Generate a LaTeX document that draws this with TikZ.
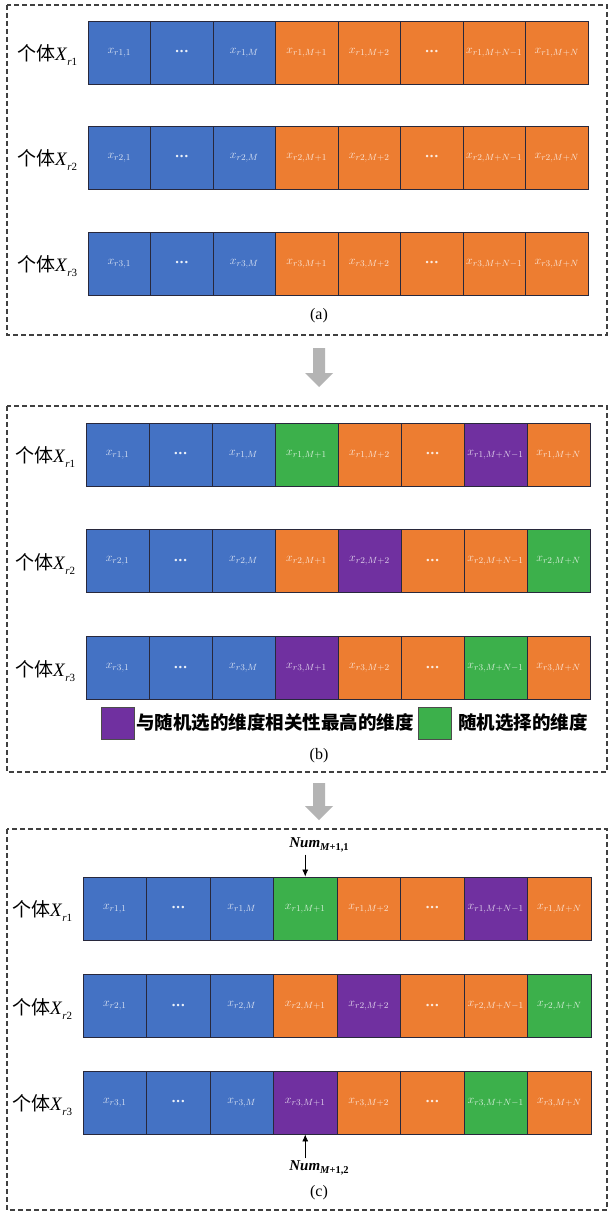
\documentclass[tikz,border=0pt]{standalone}
\usepackage{fontspec}
\setmainfont{Liberation Serif}
\newfontfamily\cjk{Noto Sans CJK SC}
\usetikzlibrary{arrows.meta}
\definecolor{cblue}{RGB}{68,114,196}
\definecolor{corange}{RGB}{237,125,49}
\definecolor{cgreen}{RGB}{60,176,75}
\definecolor{cpurple}{RGB}{112,48,160}
\definecolor{frm}{RGB}{64,64,64}
\definecolor{garrow}{RGB}{180,180,180}
\definecolor{cellline}{RGB}{40,40,60}
\tikzset{
  cellbox/.style={draw=cellline, line width=0.9pt, minimum height=63pt, inner sep=0pt,
    font=\fontsize{13}{13}\selectfont},
  frame/.style={draw=frm, dash pattern=on 5pt off 3pt, line width=1.3pt},
  rowlabel/.style={anchor=base west, inner sep=0pt, font=\fontsize{19}{19}\selectfont},
  plabel/.style={font=\fontsize{16}{16}\selectfont, inner sep=0pt},
  legbox/.style={draw=black!70, line width=0.8pt, minimum width=33pt, minimum height=32pt, inner sep=0pt},
  legtext/.style={anchor=west, inner sep=0pt, font=\fontsize{18.5}{18.5}\selectfont\cjk\bfseries},
  numlabel/.style={inner sep=0pt, font=\fontsize{15}{15}\selectfont\bfseries\itshape},
  numarrow/.style={-{Latex[length=7pt,width=6pt]}, line width=0.7pt, draw=black},
  blockarrow/.style={fill=garrow, draw=none},
}
\newcommand\mydots{{\fontsize{9}{9}\selectfont\textbf{•\,•\,•}}}
% #1 prefix, #2 x0, #3 cell width, #4 y centre, #5 row index, #6 #7 #8 #9 colours of cells 4,5,7,8
\newcommand\cellrow[9]{%
  \begin{scope}[shift={(#2,#4)}, x=#3pt]
  \node[cellbox, fill=cblue, text=white!80!cblue, minimum width=#3pt] (#1c1) at (0.5,0) {$x_{r#5,1}$};
  \node[cellbox, fill=cblue, text=white!90!cblue, minimum width=#3pt] (#1c2) at (1.5,0) {\mydots};
  \node[cellbox, fill=cblue, text=white!80!cblue, minimum width=#3pt] (#1c3) at (2.5,0) {$x_{r#5,M}$};
  \node[cellbox, fill=#6, text=white!80!#6, minimum width=#3pt] (#1c4) at (3.5,0) {$x_{r#5,M+1}$};
  \node[cellbox, fill=#7, text=white!80!#7, minimum width=#3pt] (#1c5) at (4.5,0) {$x_{r#5,M+2}$};
  \node[cellbox, fill=corange, text=white!85!corange, minimum width=#3pt] (#1c6) at (5.5,0) {\mydots};
  \node[cellbox, fill=#8, text=white!80!#8, minimum width=#3pt] (#1c7) at (6.5,0) {$x_{r#5,M+N-1}$};
  \node[cellbox, fill=#9, text=white!80!#9, minimum width=#3pt] (#1c8) at (7.5,0) {$x_{r#5,M+N}$};
  \end{scope}
}
\newcommand\indlabel[1]{{\cjk 个体}\textit{X}\raisebox{-5pt}{\fontsize{11}{11}\selectfont\textit{r}#1}}
\newcommand\numtext[1]{Num\raisebox{-3.5pt}{\fontsize{10.5}{10.5}\selectfont M\upshape +1,#1}}
\begin{document}
\begin{tikzpicture}[x=1pt, y=-1pt]
\useasboundingbox (0,0) rectangle (609,1214);
\fill[white] (0,0) rectangle (609,1214);

% ---------- panel (a) ----------
\draw[frame] (7,5) rectangle (607,335);
\cellrow{a1}{88}{62.5}{52.5}{1}{corange}{corange}{corange}{corange}
\cellrow{a2}{88}{62.5}{157.5}{2}{corange}{corange}{corange}{corange}
\cellrow{a3}{88}{62.5}{263.5}{3}{corange}{corange}{corange}{corange}
\node[rowlabel] (a1lab) at (17,60.5) {\indlabel{1}};
\node[rowlabel] (a2lab) at (17,165.5) {\indlabel{2}};
\node[rowlabel] (a3lab) at (17,271.5) {\indlabel{3}};
\node[plabel] (alab) at (319,316) {(a)};

\fill[blockarrow] (313,348) -- (325,348) -- (325,373) -- (333,373) -- (319,387) -- (305,373) -- (313,373) -- cycle;

% ---------- panel (b) ----------
\draw[frame] (7,406) rectangle (607,772);
\cellrow{b1}{86}{63}{454.5}{1}{cgreen}{corange}{cpurple}{corange}
\cellrow{b2}{86}{63}{561}{2}{corange}{cpurple}{corange}{cgreen}
\cellrow{b3}{86}{63}{668}{3}{cpurple}{corange}{cgreen}{corange}
\node[rowlabel] (b1lab) at (15,462.5) {\indlabel{1}};
\node[rowlabel] (b2lab) at (15,569) {\indlabel{2}};
\node[rowlabel] (b3lab) at (15,676) {\indlabel{3}};
\node[legbox, fill=cpurple] (legp) at (117.5,723) {};
\node[legtext] (legpt) at (136,723) {与随机选的维度相关性最高的维度};
\node[legbox, fill=cgreen] (legg) at (435,723) {};
\node[legtext] (leggt) at (458,723) {随机选择的维度};
\node[plabel] (blab) at (319,756) {(b)};

\fill[blockarrow] (313,783) -- (325,783) -- (325,806) -- (333,806) -- (319,820) -- (305,806) -- (313,806) -- cycle;

% ---------- panel (c) ----------
\draw[frame] (7,829) rectangle (607,1210);
\cellrow{c1}{83}{63.5}{908.5}{1}{cgreen}{corange}{cpurple}{corange}
\cellrow{c2}{83}{63.5}{1006}{2}{corange}{cpurple}{corange}{cgreen}
\cellrow{c3}{83}{63.5}{1102.5}{3}{cpurple}{corange}{cgreen}{corange}
\node[rowlabel] (c1lab) at (12,916.5) {\indlabel{1}};
\node[rowlabel] (c2lab) at (12,1014) {\indlabel{2}};
\node[rowlabel] (c3lab) at (12,1110.5) {\indlabel{3}};
\node[numlabel] (num1) at (319,845) {\numtext{1}};
\draw[numarrow, shorten <=2pt] (num1.south -| c1c4.north) -- (c1c4.north);
\node[numlabel] (num2) at (319,1168) {\numtext{2}};
\draw[numarrow, shorten <=2pt] (num2.north -| c3c4.south) -- (c3c4.south);
\node[plabel] (clab) at (319,1193) {(c)};
\end{tikzpicture}
\end{document}
